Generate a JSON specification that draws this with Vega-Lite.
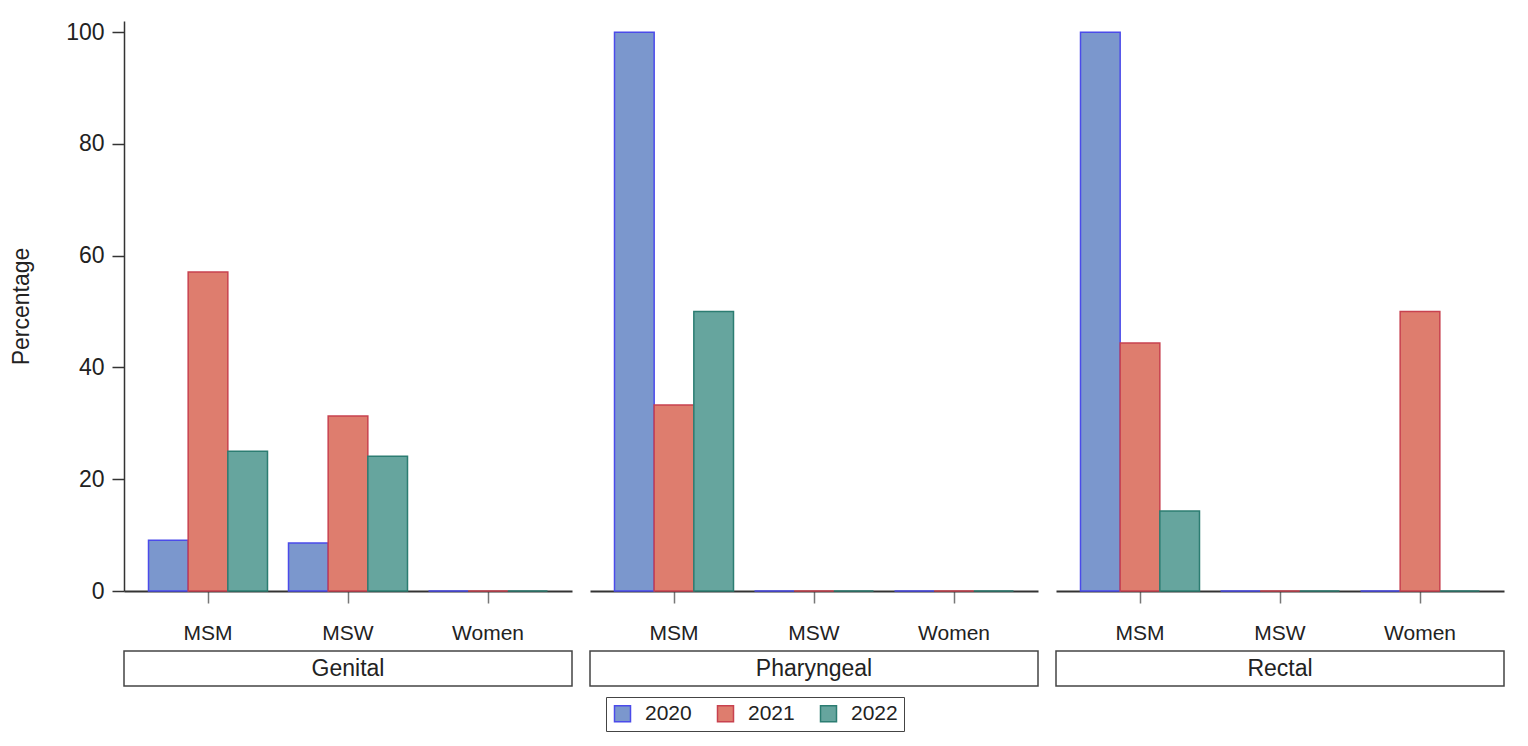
{
  "$schema": "https://vega.github.io/schema/vega-lite/v6.json",
  "background": "white",
  "padding": {"left": 10, "top": 21, "right": 10, "bottom": 10},
  "datasets": {
    "d": [
      {"site": "Genital", "group": "MSM", "year": "2020", "pct": 9.1},
      {"site": "Genital", "group": "MSM", "year": "2021", "pct": 57.1},
      {"site": "Genital", "group": "MSM", "year": "2022", "pct": 25.0},
      {"site": "Genital", "group": "MSW", "year": "2020", "pct": 8.6},
      {"site": "Genital", "group": "MSW", "year": "2021", "pct": 31.3},
      {"site": "Genital", "group": "MSW", "year": "2022", "pct": 24.1},
      {"site": "Genital", "group": "Women", "year": "2020", "pct": 0},
      {"site": "Genital", "group": "Women", "year": "2021", "pct": 0},
      {"site": "Genital", "group": "Women", "year": "2022", "pct": 0},
      {"site": "Pharyngeal", "group": "MSM", "year": "2020", "pct": 100},
      {"site": "Pharyngeal", "group": "MSM", "year": "2021", "pct": 33.3},
      {"site": "Pharyngeal", "group": "MSM", "year": "2022", "pct": 50},
      {"site": "Pharyngeal", "group": "MSW", "year": "2020", "pct": 0},
      {"site": "Pharyngeal", "group": "MSW", "year": "2021", "pct": 0},
      {"site": "Pharyngeal", "group": "MSW", "year": "2022", "pct": 0},
      {"site": "Pharyngeal", "group": "Women", "year": "2020", "pct": 0},
      {"site": "Pharyngeal", "group": "Women", "year": "2021", "pct": 0},
      {"site": "Pharyngeal", "group": "Women", "year": "2022", "pct": 0},
      {"site": "Rectal", "group": "MSM", "year": "2020", "pct": 100},
      {"site": "Rectal", "group": "MSM", "year": "2021", "pct": 44.4},
      {"site": "Rectal", "group": "MSM", "year": "2022", "pct": 14.3},
      {"site": "Rectal", "group": "MSW", "year": "2020", "pct": 0},
      {"site": "Rectal", "group": "MSW", "year": "2021", "pct": 0},
      {"site": "Rectal", "group": "MSW", "year": "2022", "pct": 0},
      {"site": "Rectal", "group": "Women", "year": "2020", "pct": 0},
      {"site": "Rectal", "group": "Women", "year": "2021", "pct": 50},
      {"site": "Rectal", "group": "Women", "year": "2022", "pct": 0}
    ]
  },
  "spacing": 16,
  "hconcat": [
    {
      "spacing": 7,
      "vconcat": [
        {
          "width": 448, "height": 570,
          "data": {"name": "d"},
          "transform": [{"filter": "datum.site === 'Genital'"}],
          "mark": {"type": "bar", "strokeWidth": 1.5},
          "encoding": {
            "x": {"field": "group", "type": "nominal", "scale": {"paddingInner": 0.15, "paddingOuter": 0.175},
                  "axis": {"title": null, "labelAngle": 0, "tickSize": 12, "labelFontSize": 21, "labelPadding": 19, "domainColor": "#333", "domainWidth": 2, "tickColor": "#777", "tickWidth": 1.5, "labelColor": "#222"}},
            "xOffset": {"field": "year", "type": "nominal"},
            "y": {"field": "pct", "type": "quantitative", "scale": {"domain": [0, 102], "nice": false},
                  "axis": {"title": "Percentage", "values": [0, 20, 40, 60, 80, 100], "tickSize": 12, "labelFontSize": 23, "titleFontSize": 23, "titleFontWeight": "normal", "titleColor": "#222", "labelPadding": 8, "titlePadding": 32, "grid": false, "domainColor": "#333", "domainWidth": 1.5, "tickColor": "#333", "tickWidth": 1.5, "labelColor": "#222"}},
            "color": {"field": "year", "type": "nominal", "scale": {"domain": ["2020", "2021", "2022"], "range": ["#7B97CD", "#DE7D6E", "#66A59E"]},
                      "legend": {"title": null, "orient": "none", "legendX": 482, "legendY": 676, "direction": "horizontal", "columns": 3, "symbolType": "square", "symbolSize": 256, "symbolStrokeWidth": 1.5, "labelFontSize": 21, "labelColor": "#222", "labelOffset": 12, "columnPadding": 22, "padding": 6, "strokeColor": "#444"}},
            "stroke": {"field": "year", "type": "nominal", "scale": {"domain": ["2020", "2021", "2022"], "range": ["#4B4BEA", "#C8424F", "#2C7D72"]},
                      "legend": {"title": null, "orient": "none", "legendX": 482, "legendY": 676, "direction": "horizontal", "columns": 3, "symbolType": "square", "symbolSize": 256, "symbolStrokeWidth": 1.5, "labelFontSize": 21, "labelColor": "#222", "labelOffset": 12, "columnPadding": 22, "padding": 6, "strokeColor": "#444"}}
          }
        },
        {
          "width": 448, "height": 35,
          "view": {"stroke": "#444", "strokeWidth": 1.5},
          "data": {"name": "d"},
          "transform": [{"filter": "datum.site === 'Genital'"}, {"aggregate": [{"op": "count", "as": "n"}], "groupby": ["site"]}],
          "mark": {"type": "text", "fontSize": 23, "color": "#222"},
          "encoding": {"text": {"field": "site", "type": "nominal"}}
        }
      ]
    },
    {
      "spacing": 7,
      "vconcat": [
        {
          "width": 448, "height": 570,
          "data": {"name": "d"},
          "transform": [{"filter": "datum.site === 'Pharyngeal'"}],
          "mark": {"type": "bar", "strokeWidth": 1.5},
          "encoding": {
            "x": {"field": "group", "type": "nominal", "scale": {"paddingInner": 0.15, "paddingOuter": 0.175},
                  "axis": {"title": null, "labelAngle": 0, "tickSize": 12, "labelFontSize": 21, "labelPadding": 19, "domainColor": "#333", "domainWidth": 2, "tickColor": "#777", "tickWidth": 1.5, "labelColor": "#222"}},
            "xOffset": {"field": "year", "type": "nominal"},
            "y": {"field": "pct", "type": "quantitative", "scale": {"domain": [0, 102], "nice": false}, "axis": null},
            "color": {"field": "year", "type": "nominal", "scale": {"domain": ["2020", "2021", "2022"], "range": ["#7B97CD", "#DE7D6E", "#66A59E"]},
                      "legend": {"title": null, "orient": "none", "legendX": 482, "legendY": 676, "direction": "horizontal", "columns": 3, "symbolType": "square", "symbolSize": 256, "symbolStrokeWidth": 1.5, "labelFontSize": 21, "labelColor": "#222", "labelOffset": 12, "columnPadding": 22, "padding": 6, "strokeColor": "#444"}},
            "stroke": {"field": "year", "type": "nominal", "scale": {"domain": ["2020", "2021", "2022"], "range": ["#4B4BEA", "#C8424F", "#2C7D72"]},
                      "legend": {"title": null, "orient": "none", "legendX": 482, "legendY": 676, "direction": "horizontal", "columns": 3, "symbolType": "square", "symbolSize": 256, "symbolStrokeWidth": 1.5, "labelFontSize": 21, "labelColor": "#222", "labelOffset": 12, "columnPadding": 22, "padding": 6, "strokeColor": "#444"}}
          }
        },
        {
          "width": 448, "height": 35,
          "view": {"stroke": "#444", "strokeWidth": 1.5},
          "data": {"name": "d"},
          "transform": [{"filter": "datum.site === 'Pharyngeal'"}, {"aggregate": [{"op": "count", "as": "n"}], "groupby": ["site"]}],
          "mark": {"type": "text", "fontSize": 23, "color": "#222"},
          "encoding": {"text": {"field": "site", "type": "nominal"}}
        }
      ]
    },
    {
      "spacing": 7,
      "vconcat": [
        {
          "width": 448, "height": 570,
          "data": {"name": "d"},
          "transform": [{"filter": "datum.site === 'Rectal'"}],
          "mark": {"type": "bar", "strokeWidth": 1.5},
          "encoding": {
            "x": {"field": "group", "type": "nominal", "scale": {"paddingInner": 0.15, "paddingOuter": 0.175},
                  "axis": {"title": null, "labelAngle": 0, "tickSize": 12, "labelFontSize": 21, "labelPadding": 19, "domainColor": "#333", "domainWidth": 2, "tickColor": "#777", "tickWidth": 1.5, "labelColor": "#222"}},
            "xOffset": {"field": "year", "type": "nominal"},
            "y": {"field": "pct", "type": "quantitative", "scale": {"domain": [0, 102], "nice": false}, "axis": null},
            "color": {"field": "year", "type": "nominal", "scale": {"domain": ["2020", "2021", "2022"], "range": ["#7B97CD", "#DE7D6E", "#66A59E"]},
                      "legend": {"title": null, "orient": "none", "legendX": 482, "legendY": 676, "direction": "horizontal", "columns": 3, "symbolType": "square", "symbolSize": 256, "symbolStrokeWidth": 1.5, "labelFontSize": 21, "labelColor": "#222", "labelOffset": 12, "columnPadding": 22, "padding": 6, "strokeColor": "#444"}},
            "stroke": {"field": "year", "type": "nominal", "scale": {"domain": ["2020", "2021", "2022"], "range": ["#4B4BEA", "#C8424F", "#2C7D72"]},
                      "legend": {"title": null, "orient": "none", "legendX": 482, "legendY": 676, "direction": "horizontal", "columns": 3, "symbolType": "square", "symbolSize": 256, "symbolStrokeWidth": 1.5, "labelFontSize": 21, "labelColor": "#222", "labelOffset": 12, "columnPadding": 22, "padding": 6, "strokeColor": "#444"}}
          }
        },
        {
          "width": 448, "height": 35,
          "view": {"stroke": "#444", "strokeWidth": 1.5},
          "data": {"name": "d"},
          "transform": [{"filter": "datum.site === 'Rectal'"}, {"aggregate": [{"op": "count", "as": "n"}], "groupby": ["site"]}],
          "mark": {"type": "text", "fontSize": 23, "color": "#222"},
          "encoding": {"text": {"field": "site", "type": "nominal"}}
        }
      ]
    }
  ],
  "resolve": {"scale": {"color": "shared", "stroke": "shared"}, "legend": {"color": "shared", "stroke": "shared"}},
  "config": {
    "font": "Liberation Sans",
    "view": {"stroke": null},
    "axis": {"labelFont": "Liberation Sans", "titleFont": "Liberation Sans"},
    "legend": {"labelFont": "Liberation Sans"}
  }
}
